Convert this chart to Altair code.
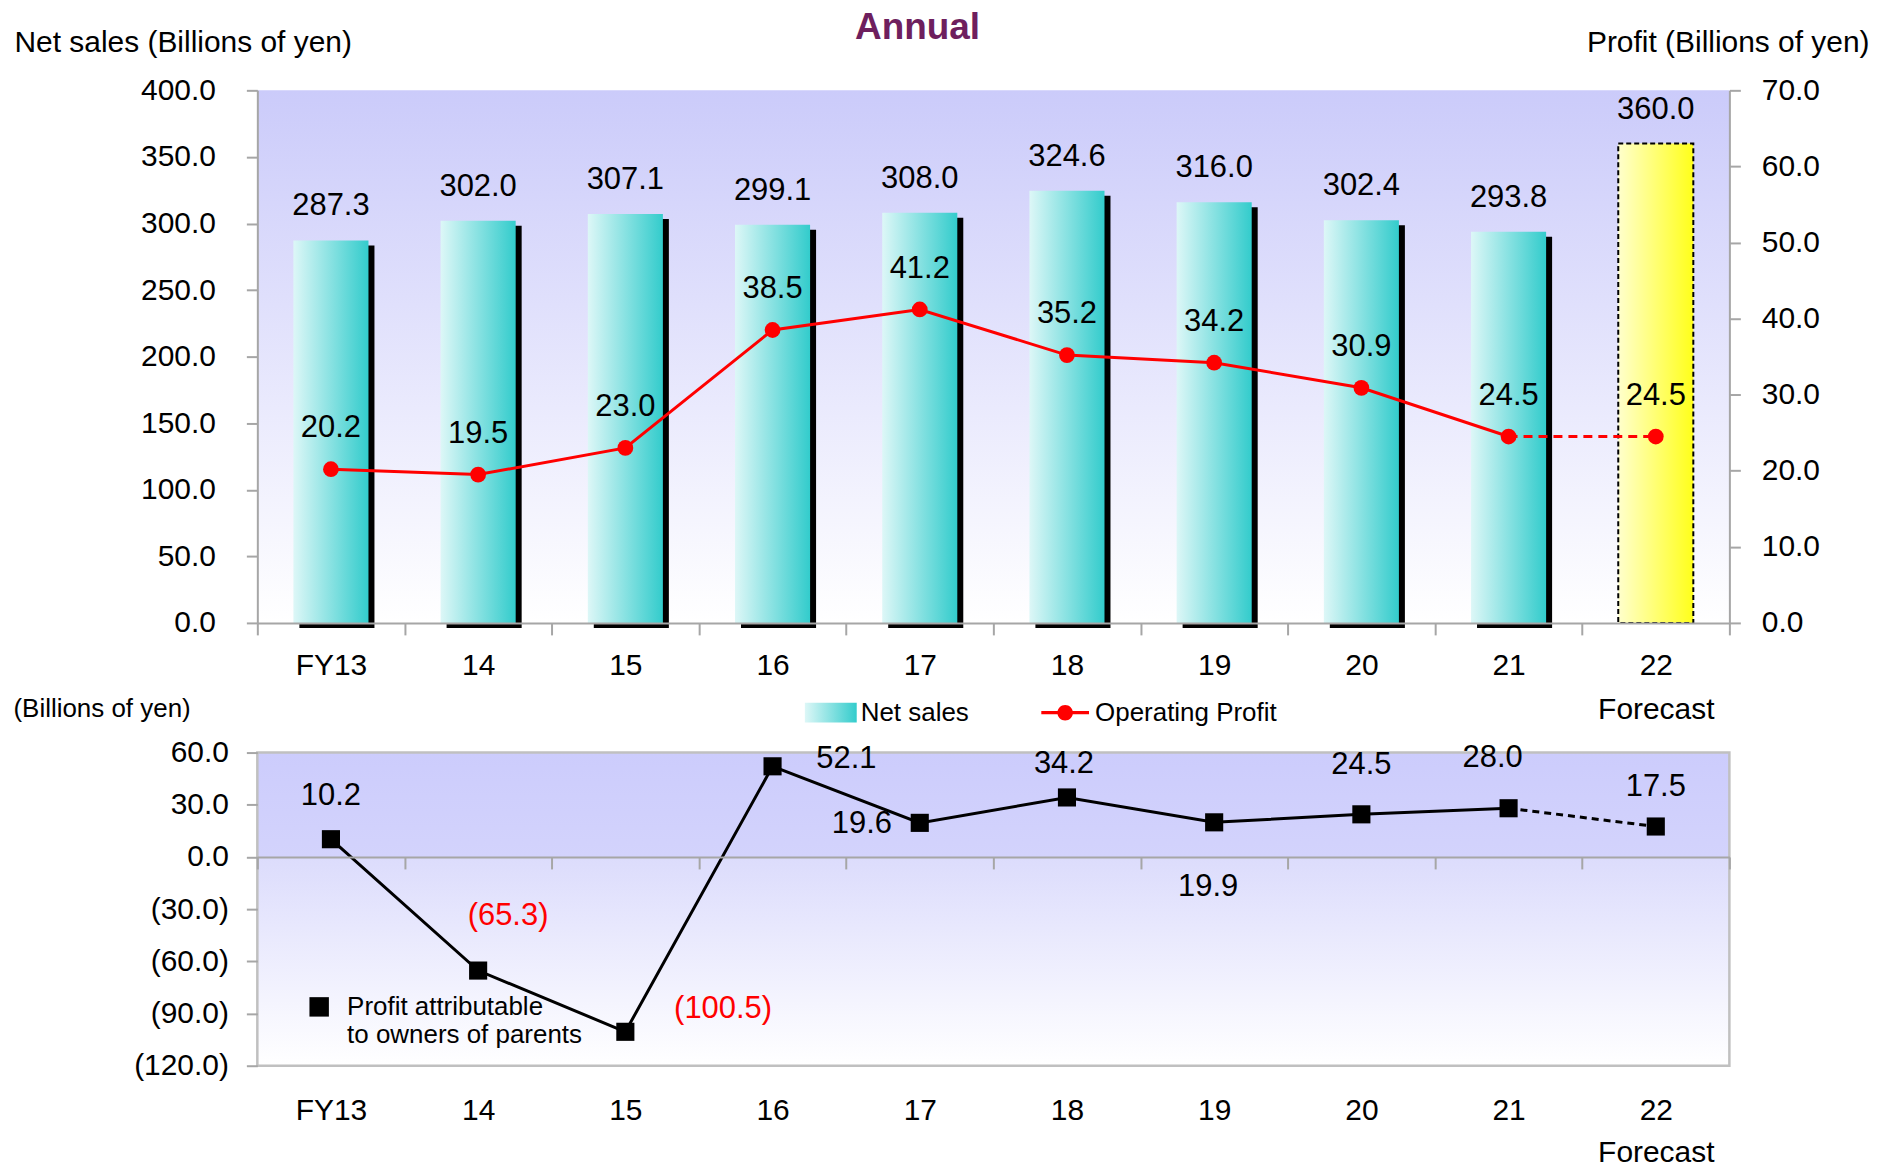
import altair as alt
import pandas as pd

# ---------------- data ----------------
years = ["FY13", "14", "15", "16", "17", "18", "19", "20", "21", "22"]
net_sales = [287.3, 302.0, 307.1, 299.1, 308.0, 324.6, 316.0, 302.4, 293.8, 360.0]
operating_profit = [20.2, 19.5, 23.0, 38.5, 41.2, 35.2, 34.2, 30.9, 24.5, 24.5]
profit_owners = [10.2, -65.3, -100.5, 52.1, 19.6, 34.2, 19.9, 24.5, 28.0, 17.5]
forecast_year = "22"
sales_ticks = [0, 50, 100, 150, 200, 250, 300, 350, 400]
profit_ticks = [0, 10, 20, 30, 40, 50, 60, 70]
bottom_ticks = [-120, -90, -60, -30, 0, 30, 60]
legend_top = ["Net sales", "Operating Profit"]
legend_bottom = ["Profit attributable to owners of parents"]

FONT = "Liberation Sans, Arial, sans-serif"
W = 1476
TOP_H = 534
BOT_H = 314
GRAY = "#A6A6A6"
FS_TICK = 30
FS_DATA = 31

df = pd.DataFrame({"year": years, "sales": net_sales, "op": operating_profit, "ni": profit_owners})
df["forecast"] = df["year"] == forecast_year

xlabel_expr = f"datum.value == '{forecast_year}' ? ['{forecast_year}', 'Forecast'] : datum.value"
x_scale = alt.Scale(domain=years, paddingInner=0, paddingOuter=0)


def grad(stops, vertical):
    return alt.Gradient(
        gradient="linear", x1=0, y1=0, x2=0 if vertical else 1, y2=1 if vertical else 0,
        stops=[alt.GradientStop(offset=o, color=c) for o, c in stops],
    )


def bg_layer(stops, **kw):
    src = pd.DataFrame({"panel": ["background"]})
    return alt.Chart(src).mark_rect(fill=grad(stops, True), **kw).encode(
        x=alt.value(0), x2=alt.value("width"), y=alt.value(0), y2=alt.value("height")
    )


# ---------- top chart ----------
x_top_axis = alt.Axis(
    title=None, labelFontSize=FS_TICK, labelPadding=16, tickSize=12, tickBand="extent",
    labelExpr=xlabel_expr, labelLineHeight=44, labelAngle=0, zindex=1,
)
X_top = alt.X("year:N", sort=years, scale=x_scale, axis=x_top_axis)

y_left_axis = alt.Axis(
    values=sales_ticks, format=".1f", title="Net sales (Billions of yen)",
    titleAngle=0, titleAlign="left", titleBaseline="middle", titleX=-244, titleY=-48,
    titleFontSize=30, titleFontWeight="normal", labelFontSize=FS_TICK, labelPadding=31,
    tickSize=11, zindex=1,
)
Y_left = alt.Y("sales:Q", scale=alt.Scale(domain=[0, 400], nice=False), axis=y_left_axis)

y_right_axis = alt.Axis(
    orient="right", values=profit_ticks, format=".1f", title="Profit (Billions of yen)",
    titleAngle=0, titleAlign="right", titleBaseline="middle", titleX=140, titleY=-48,
    titleFontSize=30, titleFontWeight="normal", labelFontSize=FS_TICK, labelPadding=21,
    tickSize=11, zindex=1,
)
Y_right = alt.Y("op:Q", scale=alt.Scale(domain=[0, 70], nice=False), axis=y_right_axis)

actual = alt.datum.forecast == False  # noqa: E712
fc = alt.datum.forecast == True  # noqa: E712

bg_top = bg_layer([(0, "#CBCBFA"), (1, "#FFFFFF")])

shadow = alt.Chart().mark_bar(
    color="black", width={"band": 0.51}, xOffset=6, yOffset=5, y2Offset=4
).encode(x=X_top, y=Y_left).transform_filter(actual)

bars = alt.Chart().mark_bar(
    fill=grad([(0, "#DDF7F7"), (1, "#33CCCC")], False), width={"band": 0.51}
).encode(x=X_top, y=Y_left).transform_filter(actual)

fc_bar = alt.Chart().mark_bar(
    fill=grad([(0, "#FFFFCC"), (1, "#FFFF1A")], False), width={"band": 0.51},
    stroke="black", strokeWidth=2, strokeDash=[5, 3],
).encode(x=X_top, y=Y_left).transform_filter(fc)

sales_labels = alt.Chart().mark_text(
    font=FONT, fontSize=FS_DATA, dy=-34, baseline="middle", color="black"
).encode(x=X_top, y=Y_left, text=alt.Text("sales:Q", format=".1f"))

line_solid = alt.Chart().mark_line(color="#FF0000", strokeWidth=3).encode(
    x=X_top, y=Y_right
).transform_filter(actual)

line_dash = alt.Chart().mark_line(color="#FF0000", strokeWidth=3, strokeDash=[9, 6]).encode(
    x=X_top, y=Y_right
).transform_filter(alt.FieldOneOfPredicate(field="year", oneOf=years[-2:]))

pts = alt.Chart().mark_circle(color="#FF0000", size=250, opacity=1).encode(x=X_top, y=Y_right)

op_labels = alt.Chart().mark_text(
    font=FONT, fontSize=FS_DATA, dy=-41, baseline="middle", color="black"
).encode(x=X_top, y=Y_right, text=alt.Text("op:Q", format=".1f"))

sq = 26
rect_path = "M-1,-0.38H1V0.38H-1Z"
lc_path = "M-0.92,-0.06H0.92V0.06H-0.92Z M0.3,0 A0.3,0.3 0 1,1 -0.3,0 A0.3,0.3 0 1,1 0.3,0 Z"
swatch = {"expr": "{gradient: 'linear', x1: 0, y1: 0, x2: 1, y2: 0, stops: [{offset: 0, color: '#DDF7F7'}, {offset: 1, color: '#33CCCC'}]}"}
leg_kw = dict(
    orient="none", legendX=549, legendY=598, direction="horizontal", title=None,
    labelFont=FONT, labelFontSize=26, labelColor="black", symbolSize=sq * sq * 4,
    symbolStrokeWidth=0, labelOffset=4, columnPadding=70, padding=0, labelLimit=400,
)
leg_df = pd.DataFrame({"series": legend_top})
legend_dummy = alt.Chart(leg_df).mark_point(filled=True, opacity=1).encode(
    color=alt.Color("series:N", scale=alt.Scale(domain=legend_top, range=[swatch, "#FF0000"]),
                    legend=alt.Legend(**leg_kw)),
    shape=alt.Shape("series:N", scale=alt.Scale(domain=legend_top, range=[rect_path, lc_path]),
                    legend=alt.Legend(**leg_kw)),
).transform_filter(alt.datum.series == "")

left_group = alt.layer(bg_top, shadow, bars, fc_bar, sales_labels)
right_group = alt.layer(line_solid, line_dash, pts, op_labels, legend_dummy)

top = alt.layer(left_group, right_group, data=df).resolve_scale(y="independent").properties(
    width=W, height=TOP_H,
    title=alt.TitleParams(
        "Annual", font=FONT, fontSize=37, fontWeight="bold", color="#6E1F5E",
        anchor="middle", frame="group", dx=-76, dy=24,
    ),
)

# ---------- bottom chart ----------
ymin, ymax = bottom_ticks[0], bottom_ticks[-1]
zero_pos = BOT_H * (ymax - 0) / (ymax - ymin)
x_bot_axis = alt.Axis(
    title=None, labelFontSize=FS_TICK, tickSize=12, tickBand="extent", labelExpr=xlabel_expr,
    labelLineHeight=42, labelAngle=0, zindex=1, offset=-(BOT_H - zero_pos),
    labelPadding=BOT_H - zero_pos + 32 - 12 - 2,
)
Xb = alt.X("year:N", sort=years, scale=x_scale, axis=x_bot_axis)
yb_axis = alt.Axis(
    values=bottom_ticks, title="(Billions of yen)",
    labelExpr="datum.value < 0 ? '(' + format(-datum.value, '.1f') + ')' : format(datum.value, '.1f') + '\u2008'",
    titleAngle=0, titleAlign="left", titleBaseline="middle", titleX=-245, titleY=-44,
    titleFontSize=26, titleFontWeight="normal", labelFontSize=FS_TICK, labelPadding=18,
    tickSize=11, zindex=1, domain=False,
)
Yb = alt.Y("ni:Q", scale=alt.Scale(domain=[ymin, ymax], nice=False), axis=yb_axis)

bg_bot = bg_layer(
    [(0, "#CCCCFC"), (0.333, "#D3D3FC"), (0.336, "#DCDCFC"), (1, "#FFFFFF")],
    stroke="#C0C0C0", strokeWidth=2.5,
)
bl_solid = alt.Chart().mark_line(color="black", strokeWidth=3).encode(
    x=Xb, y=Yb
).transform_filter(actual)
bl_dash = alt.Chart().mark_line(color="black", strokeWidth=3, strokeDash=[7, 5]).encode(
    x=Xb, y=Yb
).transform_filter(alt.FieldOneOfPredicate(field="year", oneOf=years[-2:]))
squares = alt.Chart().mark_square(color="black", size=330, opacity=1, filled=True).encode(x=Xb, y=Yb)

label_offsets = {
    "FY13": (0, -43), "14": (30, -55), "15": (98, -23), "16": (74, -7), "17": (-58, 1),
    "18": (-3, -34), "19": (-6, 65), "20": (0, -49), "21": (-16, -50), "22": (0, -40),
}
lbl_layers = []
for yr in years:
    dx, dy = label_offsets[yr]
    lbl_layers.append(
        alt.Chart().mark_text(font=FONT, fontSize=FS_DATA, dx=dx, dy=dy, baseline="middle").encode(
            x=Xb, y=Yb, text="lbl:N",
            color=alt.condition(alt.datum.ni < 0, alt.value("#FF0000"), alt.value("black")),
        ).transform_filter(alt.datum.year == yr).transform_calculate(
            lbl="datum.ni < 0 ? '(' + format(-datum.ni, '.1f') + ')' : format(datum.ni, '.1f')"
        )
    )

leg2_kw = dict(
    orient="none", legendX=49, legendY=242, title=None, labelFont=FONT, labelFontSize=26,
    labelColor="black", symbolSize=380, symbolType="square", symbolStrokeWidth=0,
    labelOffset=15, padding=0, labelLimit=400,
    labelExpr="split(replace(datum.label, ' to ', '|to '), '|')",
)
leg2_df = pd.DataFrame({"series": legend_bottom})
legend2 = alt.Chart(leg2_df).mark_square(filled=True, opacity=1).encode(
    fill=alt.Fill("series:N", scale=alt.Scale(domain=legend_bottom, range=["black"]),
                  legend=alt.Legend(**leg2_kw)),
).transform_filter(alt.datum.series == "")

bottom = alt.layer(bg_bot, bl_solid, bl_dash, squares, *lbl_layers, legend2, data=df).properties(
    width=W, height=BOT_H
)

chart = alt.vconcat(top, bottom, spacing=130, bounds="flush").resolve_scale(
    x="independent", y="independent", color="independent", shape="independent", fill="independent"
).resolve_legend(color="independent", shape="independent", fill="independent").properties(
    padding={"top": 0, "left": 5, "right": 5, "bottom": 5}
).configure_axis(
    grid=False, labelFont=FONT, titleFont=FONT, labelColor="black", titleColor="black",
    domainColor=GRAY, tickColor=GRAY, domainWidth=2, tickWidth=2,
).configure_view(stroke=None).configure_text(font=FONT)

chart.save("out.html", embed_options={"renderer": "svg", "actions": False})
